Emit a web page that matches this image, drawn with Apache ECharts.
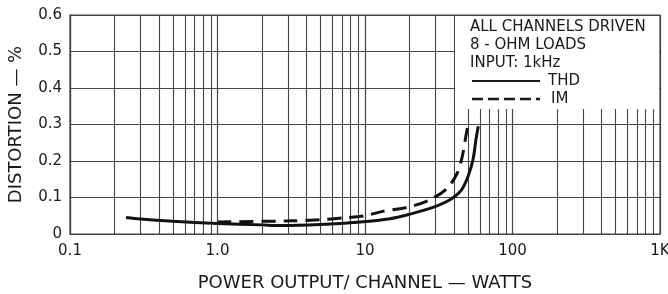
<!DOCTYPE html>
<html>
<head>
<meta charset="utf-8">
<script src="https://cdn.jsdelivr.net/npm/echarts@6/dist/echarts.min.js"></script>
<style>
  html, body { margin: 0; padding: 0; background: #fff; }
  #chart { width: 668px; height: 294px; }
</style>
</head>
<body>
<div id="chart"></div>
<script>
// power per channel (W) vs distortion (%)
const thdPower = [0.24, 0.3, 0.5, 1.0, 2.0, 2.65, 5, 9.3, 14.8, 20, 27.6, 37.7, 45, 50, 54, 56.5, 58.6]
const thdValues = [0.045, 0.041, 0.035, 0.029, 0.025, 0.023, 0.026, 0.033, 0.042, 0.054, 0.07, 0.094, 0.12, 0.158, 0.204, 0.258, 0.295]

const imPower = [1.0, 3.1, 4.95, 7.1, 10, 13.2, 20.2, 27.6, 36, 42, 45.5, 48.4, 50]
const imValues = [0.033, 0.036, 0.039, 0.044, 0.05, 0.062, 0.075, 0.094, 0.125, 0.165, 0.21, 0.27, 0.3]

const xTickValues = [0.1, 1, 10, 100, 1000]
const xTickLabels = ['0.1', '1.0', '10', '100', '1K']
const yTickValues = [0, 0.1, 0.2, 0.3, 0.4, 0.5, 0.6]
const yTickLabels = ['0', '0.1', '0.2', '0.3', '0.4', '0.5', '0.6']

// log paper: lines at 2..9 inside each decade
const minorSteps = [2, 3, 4, 5, 6, 7, 8, 9]
const decades = [0.1, 1, 10, 100]

const legendLines = ['ALL CHANNELS DRIVEN', '8 - OHM LOADS', 'INPUT: 1kHz']

const ink = '#1a1a1a'
const gridInk = '#444'
const font = 'DejaVu Sans'

const chart = echarts.init(document.getElementById('chart'), null, { renderer: 'canvas' })

const minorLines = []
decades.forEach(d => {
  minorSteps.forEach(s => {
    minorLines.push({ xAxis: +(d * s).toPrecision(3) })
  })
})

function pairs(xs, ys) {
  return xs.map((x, i) => [x, ys[i]])
}

function nearestLabel(v, values, labels) {
  let best = 0
  values.forEach((t, i) => {
    if (Math.abs(t - v) < Math.abs(values[best] - v)) best = i
  })
  return labels[best]
}

chart.setOption({
  animation: false,
  grid: {
    left: 70,
    right: 8,
    top: 15,
    bottom: 60,
    containLabel: false,
    outerBoundsMode: 'none',
    show: true,
    borderColor: gridInk,
    borderWidth: 1.2
  },
  xAxis: {
    type: 'log',
    logBase: 10,
    min: 0.1,
    max: 1000,
    name: 'POWER OUTPUT/ CHANNEL — WATTS',
    nameLocation: 'middle',
    nameGap: 40,
    nameTextStyle: { fontFamily: font, fontSize: 18, color: ink },
    axisLine: { show: true, lineStyle: { color: gridInk, width: 1.2 } },
    axisTick: { show: false },
    axisLabel: {
      fontFamily: font,
      fontSize: 15,
      color: ink,
      margin: 10,
      formatter: v => nearestLabel(v, xTickValues, xTickLabels)
    },
    splitLine: { show: true, lineStyle: { color: gridInk, width: 1.2 } }
  },
  yAxis: {
    type: 'value',
    min: 0,
    max: 0.6,
    interval: 0.1,
    name: 'DISTORTION — %',
    nameLocation: 'middle',
    nameGap: 45,
    nameRotate: 90,
    nameTextStyle: { fontFamily: font, fontSize: 18, color: ink },
    axisLine: { show: true, lineStyle: { color: gridInk, width: 1.2 } },
    axisTick: { show: false },
    axisLabel: {
      fontFamily: font,
      fontSize: 15,
      color: ink,
      margin: 8,
      formatter: v => nearestLabel(v, yTickValues, yTickLabels)
    },
    splitLine: { show: true, lineStyle: { color: gridInk, width: 1.2 } }
  },
  series: [
    {
      name: 'minor',
      type: 'line',
      data: [],
      z: 1,
      silent: true,
      markLine: {
        silent: true,
        symbol: 'none',
        label: { show: false },
        lineStyle: { color: gridInk, width: 1.1, type: 'solid' },
        data: minorLines
      }
    },
    {
      name: 'THD',
      type: 'line',
      data: pairs(thdPower, thdValues),
      smooth: 0.3,
      symbol: 'none',
      z: 5,
      lineStyle: { color: '#111', width: 3 }
    },
    {
      name: 'IM',
      type: 'line',
      data: pairs(imPower, imValues),
      smooth: 0.3,
      symbol: 'none',
      z: 5,
      lineStyle: { color: '#111', width: 3, type: [14, 8] }
    }
  ],
  graphic: [
    {
      type: 'rect',
      z: 100,
      shape: { x: 455, y: 16, width: 204, height: 93 },
      style: { fill: '#fff' }
    },
    ...legendLines.map((t, i) => ({
      type: 'text',
      z: 101,
      x: 470,
      y: 27 + i * 18,
      style: {
        text: t,
        fontFamily: font,
        fontSize: 15,
        fill: ink,
        textVerticalAlign: 'middle'
      }
    })),
    {
      type: 'line',
      z: 101,
      shape: { x1: 472, y1: 81, x2: 540, y2: 81 },
      style: { stroke: ink, lineWidth: 2 }
    },
    {
      type: 'text',
      z: 101,
      x: 548,
      y: 81,
      style: { text: 'THD', fontFamily: font, fontSize: 15, fill: ink, textVerticalAlign: 'middle' }
    },
    {
      type: 'line',
      z: 101,
      shape: { x1: 472, y1: 99, x2: 540, y2: 99 },
      style: { stroke: ink, lineWidth: 2.5, lineDash: [11, 5] }
    },
    {
      type: 'text',
      z: 101,
      x: 551,
      y: 99,
      style: { text: 'IM', fontFamily: font, fontSize: 15, fill: ink, textVerticalAlign: 'middle' }
    }
  ]
})
</script>
</body>
</html>
